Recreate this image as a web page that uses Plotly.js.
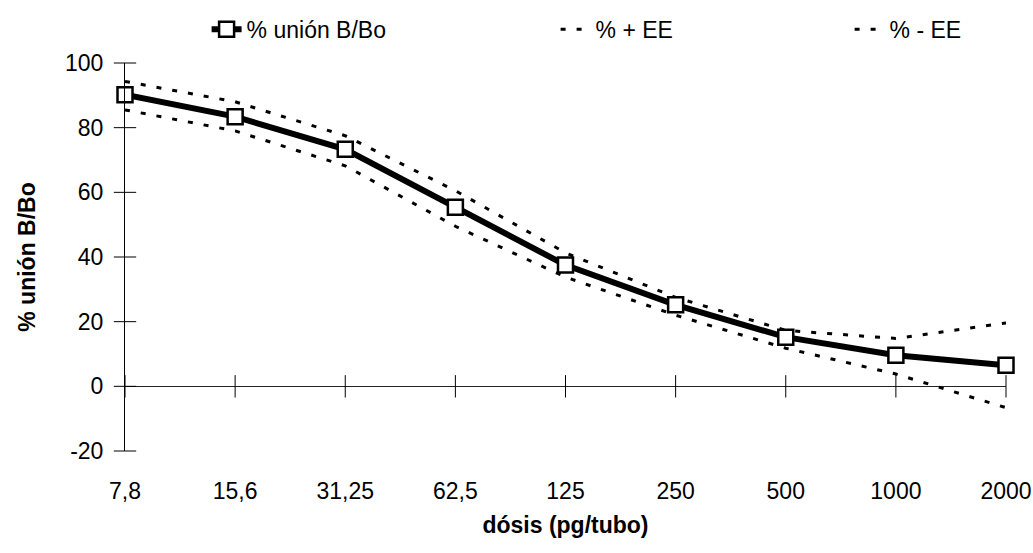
<!DOCTYPE html>
<html>
<head>
<meta charset="utf-8">
<script src="https://cdn.plot.ly/plotly-3.0.1.min.js"></script>
<style>html,body{margin:0;padding:0;background:#fff;}#chart{width:1033px;height:553px;}</style>
</head>
<body>
<div id="chart"></div>
<script>
const doses = ["7,8", "15,6", "31,25", "62,5", "125", "250", "500", "1000", "2000"];
const binding = [90.2, 83.4, 73.3, 55.4, 37.5, 25.2, 15.2, 9.6, 6.5];
const plusSE = [94.3, 88.0, 77.5, 60.5, 41.3, 27.5, 17.3, 14.8, 19.6];
const minusSE = [85.5, 79.0, 68.2, 49.5, 33.8, 22.0, 11.8, 3.8, -6.6];
const yTicks = [-20, 0, 20, 40, 60, 80, 100];
const yTickLabels = ["-20", "0", "20", "40", "60", "80", "100"];

const FONT = "Liberation Sans, Arial, sans-serif";
const zeros = doses.map(() => 0);
const firstCat = yTicks.map(() => doses[0]);

const data = [
  {
    x: doses, y: plusSE, type: "scatter", mode: "lines", name: "% + EE",
    line: {color: "#000", width: 3, dash: "5px,11px"},
    legendrank: 2, legendwidth: 249, cliponaxis: false
  },
  {
    x: doses, y: minusSE, type: "scatter", mode: "lines", name: "% - EE",
    line: {color: "#000", width: 3, dash: "5px,11px"},
    legendrank: 3, cliponaxis: false
  },
  {
    x: doses, y: zeros, type: "scatter", mode: "markers", showlegend: false, hoverinfo: "skip",
    marker: {symbol: "line-ns", size: 16, line: {color: "#000", width: 1}},
    cliponaxis: false
  },
  {
    x: firstCat, y: yTicks, type: "scatter", mode: "markers", showlegend: false, hoverinfo: "skip",
    marker: {symbol: "line-ew", size: 16, line: {color: "#000", width: 1}},
    cliponaxis: false
  },
  {
    x: doses, y: binding, type: "scatter", mode: "lines+markers", name: "% unión B/Bo",
    line: {color: "#000", width: 6},
    marker: {symbol: "square", size: 15, color: "#fff", line: {color: "#000", width: 2.5}},
    legendrank: 1, legendwidth: 304, cliponaxis: false
  }
];

const layout = {
  width: 1033, height: 553,
  margin: {l: 125, r: 27, t: 63, b: 102, autoexpand: false},
  paper_bgcolor: "#fff", plot_bgcolor: "#fff",
  font: {family: FONT, size: 23, color: "#000"},
  showlegend: true,
  legend: {
    orientation: "h", xref: "container", yref: "container",
    x: 0.2, xanchor: "left", y: 0.986, yanchor: "top",
    font: {family: FONT, size: 23, color: "#000"},
    bgcolor: "rgba(0,0,0,0)", traceorder: "normal"
  },
  xaxis: {
    type: "category", range: [0, 8], showgrid: false, zeroline: false,
    showline: false, ticks: "", ticklabelstandoff: 24,
    tickfont: {family: FONT, size: 23, color: "#000"},
    title: {text: "dósis (pg/tubo)", font: {family: FONT, size: 23, color: "#000", weight: "bold"}, standoff: 13}
  },
  yaxis: {
    range: [-20, 100], tickvals: yTicks, ticktext: yTickLabels, showgrid: false,
    zeroline: true, zerolinecolor: "#222", zerolinewidth: 1,
    showline: true, linecolor: "#000", linewidth: 1, ticks: "",
    ticklabelstandoff: 16,
    tickfont: {family: FONT, size: 23, color: "#000"},
    title: {text: "% unión B/Bo", font: {family: FONT, size: 23, color: "#000", weight: "bold"}, standoff: 22}
  }
};

Plotly.newPlot("chart", data, layout, {displayModeBar: false, staticPlot: true});
</script>
</body>
</html>
